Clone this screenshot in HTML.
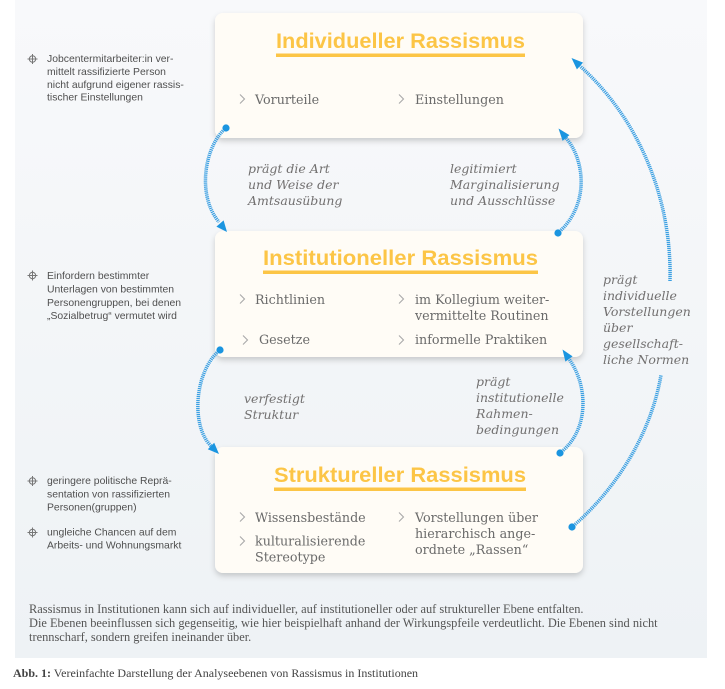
<!DOCTYPE html>
<html><head><meta charset="utf-8"><style>
html,body{margin:0;padding:0;background:#fff;}
svg{display:block;}
.t{font-family:"Liberation Sans",sans-serif;font-weight:bold;fill:#fcc546;font-size:21.5px;}
.it{font-family:"DejaVu Serif","Liberation Serif",serif;fill:#6a6a6a;font-size:12.7px;}
.lb{font-family:"DejaVu Serif","Liberation Serif",serif;font-style:italic;fill:#727070;font-size:12.5px;}
.sm{font-family:"Liberation Sans",sans-serif;fill:#4f4f4f;font-size:10.4px;}
.fn{font-family:"Liberation Serif",serif;fill:#555;font-size:12.4px;}
.ar{fill:none;stroke:#3a9fe2;stroke-width:3.5;stroke-dasharray:1.2 0.8;}
.ah{fill:#1b95e0;}
</style></head><body>
<svg width="725" height="689" viewBox="0 0 725 689" xmlns="http://www.w3.org/2000/svg">
<defs>
<linearGradient id="bg" x1="0" y1="0" x2="0" y2="1">
<stop offset="0" stop-color="#f8f9fb"/><stop offset="1" stop-color="#eef2f5"/>
</linearGradient>
<filter id="sh" x="-10%" y="-10%" width="120%" height="130%">
<feDropShadow dx="0" dy="3" stdDeviation="3" flood-color="#000" flood-opacity="0.18"/>
</filter>
</defs>
<rect x="15" y="0" width="692" height="658" fill="url(#bg)"/>

<!-- boxes -->
<rect x="215" y="13" width="368" height="125" rx="8" fill="#fffcf6" filter="url(#sh)"/>
<rect x="215" y="231" width="368" height="126" rx="8" fill="#fffcf6" filter="url(#sh)"/>
<rect x="215" y="447" width="368" height="126" rx="8" fill="#fffcf6" filter="url(#sh)"/>

<!-- titles -->
<text class="t" x="276" y="48" textLength="249" lengthAdjust="spacingAndGlyphs">Individueller Rassismus</text>
<rect x="276" y="53.5" width="249" height="3.5" fill="#fcc546"/>
<text class="t" x="263" y="265" textLength="275" lengthAdjust="spacingAndGlyphs">Institutioneller Rassismus</text>
<rect x="263" y="270.5" width="275" height="3.5" fill="#fcc546"/>
<text class="t" x="274" y="482" textLength="252" lengthAdjust="spacingAndGlyphs">Struktureller Rassismus</text>
<rect x="274" y="487.5" width="252" height="3.5" fill="#fcc546"/>

<!-- chevrons -->
<g fill="none" stroke="#a9a9a9" stroke-width="1.1">
<polyline points="240,94.5 244.5,99 240,103.5"/>
<polyline points="399,94.5 403.5,99 399,103.5"/>
<polyline points="240,294.5 244.5,299 240,303.5"/>
<polyline points="399,294.5 403.5,299 399,303.5"/>
<polyline points="243,335.5 247.5,340 243,344.5"/>
<polyline points="399,335.5 403.5,340 399,344.5"/>
<polyline points="240,512.5 244.5,517 240,521.5"/>
<polyline points="240,536.5 244.5,541 240,545.5"/>
<polyline points="399,512.5 403.5,517 399,521.5"/>
</g>

<!-- items -->
<text class="it" x="255" y="104">Vorurteile</text>
<text class="it" x="415" y="104">Einstellungen</text>
<text class="it" x="255" y="304">Richtlinien</text>
<text class="it" x="415" y="304">im Kollegium weiter-</text>
<text class="it" x="415" y="320">vermittelte Routinen</text>
<text class="it" x="259" y="344">Gesetze</text>
<text class="it" x="415" y="344">informelle Praktiken</text>
<text class="it" x="255" y="522">Wissensbestände</text>
<text class="it" x="255" y="545.5">kulturalisierende</text>
<text class="it" x="255" y="561.5">Stereotype</text>
<text class="it" x="415" y="522">Vorstellungen über</text>
<text class="it" x="415" y="538">hierarchisch ange-</text>
<text class="it" x="415" y="554">ordnete „Rassen“</text>

<!-- labels -->
<text class="lb" x="248" y="173">prägt die Art</text>
<text class="lb" x="248" y="189">und Weise der</text>
<text class="lb" x="248" y="205">Amtsausübung</text>
<text class="lb" x="450" y="173">legitimiert</text>
<text class="lb" x="450" y="189">Marginalisierung</text>
<text class="lb" x="450" y="205">und Ausschlüsse</text>
<text class="lb" x="244" y="403">verfestigt</text>
<text class="lb" x="244" y="419">Struktur</text>
<text class="lb" x="476" y="386">prägt</text>
<text class="lb" x="476" y="402">institutionelle</text>
<text class="lb" x="476" y="418">Rahmen-</text>
<text class="lb" x="476" y="434">bedingungen</text>
<text class="lb" x="603" y="284">prägt</text>
<text class="lb" x="603" y="300">individuelle</text>
<text class="lb" x="603" y="316">Vorstellungen</text>
<text class="lb" x="603" y="332">über</text>
<text class="lb" x="603" y="348">gesellschaft-</text>
<text class="lb" x="603" y="364">liche Normen</text>

<!-- arrows -->
<path class="ar" d="M226,128 C205,145 196,195 219,222"/>
<circle class="ah" cx="226" cy="128" r="3.6"/>
<polygon class="ah" points="227,232 216.4,226.6 223.6,220.4"/>

<path class="ar" d="M558,233 C590,205 585,160 566,138"/>
<circle class="ah" cx="558" cy="233" r="3.6"/>
<polygon class="ah" points="558.5,128.5 562.6,140.9 569.4,135.1"/>

<path class="ar" d="M220,350 C195,370 190,425 211,446"/>
<circle class="ah" cx="220" cy="350" r="3.6"/>
<polygon class="ah" points="219,454 207.8,449.2 214.2,442.8"/>

<path class="ar" d="M560,453 C590,430 588,385 569,359"/>
<circle class="ah" cx="560" cy="453" r="3.6"/>
<polygon class="ah" points="562.5,349.5 565.4,361.6 572.6,356.4"/>

<path class="ar" d="M572,527 C610,495 650,440 661,375"/>
<circle class="ah" cx="572" cy="527" r="3.6"/>
<path class="ar" d="M670,281 C672,200 640,120 580,66"/>
<polygon class="ah" points="571.5,58 576.9,69.4 583.1,62.6"/>

<!-- left bullets -->
<g fill="none" stroke="#777" stroke-width="1">
<circle cx="32.5" cy="59" r="3.2"/><path d="M27.5,59H37.5M32.5,54V64"/>
<circle cx="32.5" cy="275.5" r="3.2"/><path d="M27.5,275.5H37.5M32.5,270.5V280.5"/>
<circle cx="32.5" cy="481" r="3.2"/><path d="M27.5,481H37.5M32.5,476V486"/>
<circle cx="32.5" cy="532.5" r="3.2"/><path d="M27.5,532.5H37.5M32.5,527.5V537.5"/>
</g>
<text class="sm" x="47" y="62">Jobcentermitarbeiter:in ver-</text>
<text class="sm" x="47" y="75">mittelt rassifizierte Person</text>
<text class="sm" x="47" y="88">nicht aufgrund eigener rassis-</text>
<text class="sm" x="47" y="100.5">tischer Einstellungen</text>
<text class="sm" x="47" y="279">Einfordern bestimmter</text>
<text class="sm" x="47" y="292.5">Unterlagen von bestimmten</text>
<text class="sm" x="47" y="306">Personengruppen, bei denen</text>
<text class="sm" x="47" y="319">„Sozialbetrug“ vermutet wird</text>
<text class="sm" x="47" y="484">geringere politische Reprä-</text>
<text class="sm" x="47" y="497.5">sentation von rassifizierten</text>
<text class="sm" x="47" y="510.5">Personen(gruppen)</text>
<text class="sm" x="47" y="535.5">ungleiche Chancen auf dem</text>
<text class="sm" x="47" y="548.5">Arbeits- und Wohnungsmarkt</text>

<!-- footnote -->
<text class="fn" x="29" y="613">Rassismus in Institutionen kann sich auf individueller, auf institutioneller oder auf struktureller Ebene entfalten.</text>
<text class="fn" x="29" y="627">Die Ebenen beeinflussen sich gegenseitig, wie hier beispielhaft anhand der Wirkungspfeile verdeutlicht. Die Ebenen sind nicht</text>
<text class="fn" x="29" y="641">trennscharf, sondern greifen ineinander über.</text>
<text class="fn" x="13" y="677" style="fill:#444;font-size:12px"><tspan font-weight="bold">Abb. 1:</tspan> Vereinfachte Darstellung der Analyseebenen von Rassismus in Institutionen</text>
</svg>
</body></html>
